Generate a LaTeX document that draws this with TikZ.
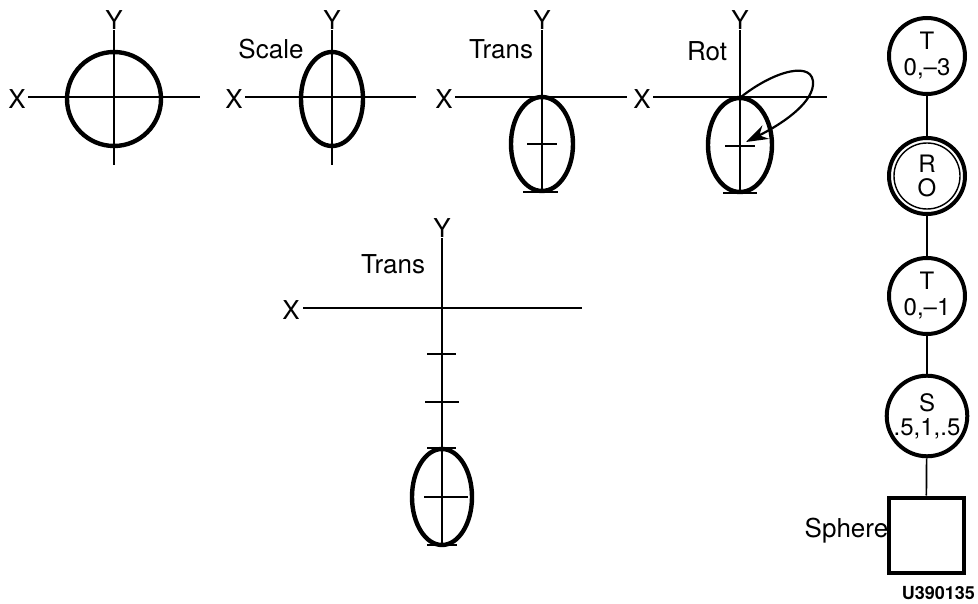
\documentclass[tikz,border=0pt]{standalone}
\usepackage{fontspec}
\setmainfont{TeX Gyre Heros}
\usetikzlibrary{arrows.meta,positioning}

\begin{document}
\begin{tikzpicture}[x=1pt,y=-1pt,
    axis/.style={line width=1.8pt},
    obj/.style={line width=4.4pt},
    tick/.style={line width=1.8pt},
    lbl/.style={font=\fontsize{26}{26}\selectfont,inner sep=0pt},
    tnode/.style={circle,draw,line width=4pt,minimum size=76pt,inner sep=0pt,
      align=center,font=\fontsize{24}{24}\selectfont},
    conn/.style={line width=1.7pt}]
  \useasboundingbox (0,0) rectangle (978,604);
  % axes of the four stages along the top
  \foreach \n/\cx/\xl/\xr/\yb in {a/114/28/200/165, b/332/245/416/165,
      c/542/455/627/192, d/740/653/827/193}{
    \draw[axis] (\xl,97) -- (\xr,97);
    \draw[axis] (\cx,30) -- (\cx,\yb);
    \node[lbl,anchor=east] (x\n) at (\xl-2,99) {X};
    \node[lbl,anchor=south] (y\n) at (\cx,30) {Y};
  }
  \node[lbl] (scale) at (271,49) {Scale};
  \node[lbl] (trans1) at (501,49) {Trans};
  \node[lbl] (rot) at (707,51) {Rot};
  \draw[obj] (114,99) ellipse [x radius=47, y radius=47];
  \draw[obj] (332,99) ellipse [x radius=31, y radius=47];
  \draw[obj] (542,144) ellipse [x radius=31, y radius=47];
  \draw[obj] (740,145) ellipse [x radius=32, y radius=47];
  \draw[tick] (527,144) -- (557,144);
  \draw[tick] (523,192) -- (558,192);
  \draw[tick] (725,146) -- (755,146);
  \draw[tick] (723,193) -- (757,193);
  % rotation loop
  \coordinate (rtop) at (741,97);
  \coordinate (rtip) at (746,142);
  \draw[line width=2.2pt,-{Stealth[length=22pt,width=15pt]}]
    (rtop) .. controls (775,70) and (815,60) .. (813,85)
    .. controls (811,105) and (780,125) .. (rtip);
  % final translation
  \draw[axis] (303,308) -- (582,308);
  \draw[axis] (442,238) -- (442,545);
  \node[lbl,anchor=east] (xe) at (300,310) {X};
  \node[lbl,anchor=south] (ye) at (442,238) {Y};
  \node[lbl] (trans2) at (393,264) {Trans};
  \foreach \y/\l/\r in {354/427/456, 402/425/459, 448/427/456, 497/424/468, 545/427/457}
    \draw[tick] (\l,\y) -- (\r,\y);
  \draw[obj] (442,497) ellipse [x radius=30, y radius=48];
  % structure tree
  \node[tnode] (t1) at (927,56) {T\\[2pt]0,–3};
  \node[tnode] (r1) at (927,176) {R\\O};
  \draw[line width=1.4pt] (r1.center) circle [radius=33pt];
  \node[tnode] (t2) at (927,296) {T\\[2pt]0,–1};
  \node[tnode] (s1) at (927,416) {S\\.5,1,.5};
  \node[draw,line width=4pt,minimum size=75pt,inner sep=0pt] (sph) at (926,535) {};
  \node[lbl,left=-2pt of sph,yshift=4pt] (sphlbl) {Sphere};
  \draw[conn] (t1) -- (r1);
  \draw[conn] (r1) -- (t2);
  \draw[conn] (t2) -- (s1);
  \draw[conn] (s1) -- (sph);
  \node[font=\bfseries\fontsize{18}{18}\selectfont,anchor=east,inner sep=0pt] (fig) at (975,593) {U390135};
\end{tikzpicture}
\end{document}
